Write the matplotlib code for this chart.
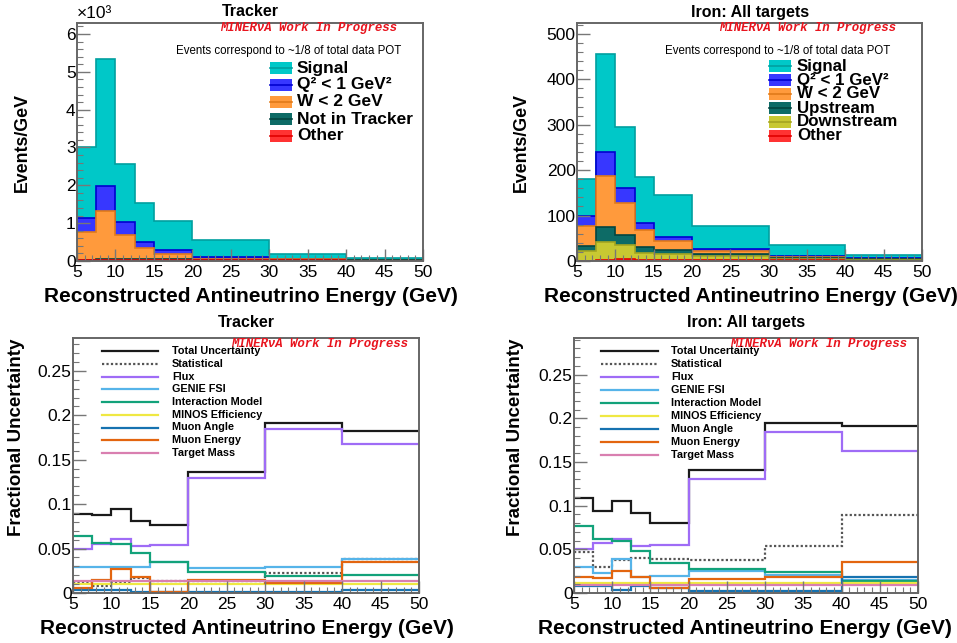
import numpy as np
import matplotlib
matplotlib.use("Agg")
import matplotlib.pyplot as plt
from matplotlib.ticker import MultipleLocator, FuncFormatter

# ---------------- data ----------------
edges = [5, 7.5, 10, 12.5, 15, 20, 30, 40, 50]

# Tracker (events/GeV), individual stack components
trk_other  = [20, 30, 30, 30, 30, 20, 20, 10]
trk_notin  = [10, 10, 10, 10, 10, 10, 10, 5]
trk_w      = [740, 1270, 650, 310, 140, 30, 10, 5]
trk_q2     = [370, 670, 330, 160, 100, 40, 20, 10]
trk_signal = [1870, 3360, 1540, 1030, 790, 465, 130, 40]

# Iron: all targets (events/GeV)
fe_other  = [1, 2, 4, 3, 3, 2, 2, 1]
fe_down   = [20, 39, 32, 15, 12, 8, 3, 2]
fe_up     = [13, 34, 22, 13, 10, 5, 2, 1.5]
fe_w      = [43, 112, 69, 37, 19, 6, 2, 0.5]
fe_q2     = [21, 54, 34, 15, 9, 6, 1, 1.5]
fe_signal = [82, 215, 134, 102, 93, 50, 25, 6]

# Fractional uncertainties, Tracker
trk_unc = {
    "Total Uncertainty": [0.089, 0.088, 0.094, 0.0815, 0.077, 0.136, 0.191, 0.182],
    "Statistical":       [0.011, 0.008, 0.0125, 0.017, 0.014, 0.0135, 0.0225, 0.038],
    "Flux":              [0.050, 0.055, 0.061, 0.053, 0.054, 0.129, 0.185, 0.168],
    "GENIE FSI":         [0.029, 0.029, 0.029, 0.029, 0.035, 0.028, 0.029, 0.0385],
    "Interaction Model": [0.064, 0.056, 0.055, 0.045, 0.035, 0.024, 0.0195, 0.020],
    "MINOS Efficiency":  [0.010, 0.010, 0.010, 0.010, 0.010, 0.010, 0.010, 0.010],
    "Muon Angle":        [0.003, 0.003, 0.003, 0.001, 0.001, 0.001, 0.001, 0.003],
    "Muon Energy":       [0.0055, 0.015, 0.027, 0.018, 0.001, 0.015, 0.011, 0.0345],
    "Target Mass":       [0.014, 0.014, 0.014, 0.014, 0.014, 0.014, 0.014, 0.014],
}
# Fractional uncertainties, Iron
fe_unc = {
    "Total Uncertainty": [0.109, 0.094, 0.105, 0.092, 0.080, 0.141, 0.195, 0.191],
    "Statistical":       [0.047, 0.0295, 0.0375, 0.040, 0.039, 0.0375, 0.0535, 0.0895],
    "Flux":              [0.050, 0.057, 0.062, 0.054, 0.055, 0.130, 0.184, 0.163],
    "GENIE FSI":         [0.0295, 0.023, 0.039, 0.018, 0.020, 0.025, 0.021, 0.015],
    "Interaction Model": [0.0765, 0.062, 0.059, 0.048, 0.034, 0.0275, 0.024, 0.014],
    "MINOS Efficiency":  [0.011, 0.011, 0.011, 0.011, 0.011, 0.011, 0.011, 0.011],
    "Muon Angle":        [0.0075, 0.0075, 0.004, 0.0085, 0.006, 0.002, 0.002, 0.018],
    "Muon Energy":       [0.018, 0.017, 0.0255, 0.0185, 0.0055, 0.0165, 0.018, 0.035],
    "Target Mass":       [0.009, 0.009, 0.009, 0.009, 0.009, 0.009, 0.009, 0.009],
}

unc_style = {
    "Total Uncertainty": dict(color="#1a1a1a", ls="-"),
    "Statistical":       dict(color="#555555", ls=(0, (1, 1))),
    "Flux":              dict(color="#9f6cf6", ls="-"),
    "GENIE FSI":         dict(color="#56b4e9", ls="-"),
    "Interaction Model": dict(color="#12a27a", ls="-"),
    "MINOS Efficiency":  dict(color="#efe842", ls="-"),
    "Muon Angle":        dict(color="#1672b0", ls="-"),
    "Muon Energy":       dict(color="#e3650f", ls="-"),
    "Target Mass":       dict(color="#d97fb0", ls="-"),
}

# (label, values, fill, edge)
trk_stack = [
    ("Other", trk_other, "#ff3333", "#e00000"),
    ("Not in Tracker", trk_notin, "#0d6b66", "#034540"),
    ("W < 2 GeV", trk_w, "#ff9a3c", "#e07a1a"),
    ("Q² < 1 GeV²", trk_q2, "#3737ff", "#0000d0"),
    ("Signal", trk_signal, "#00c8c8", "#00a0a0"),
]
fe_stack = [
    ("Other", fe_other, "#ff3333", "#e00000"),
    ("Downstream", fe_down, "#c8c832", "#a5a520"),
    ("Upstream", fe_up, "#0d6b66", "#034540"),
    ("W < 2 GeV", fe_w, "#ff9a3c", "#e07a1a"),
    ("Q² < 1 GeV²", fe_q2, "#3737ff", "#0000d0"),
    ("Signal", fe_signal, "#00c8c8", "#00a0a0"),
]

SANS = ["Liberation Sans", "DejaVu Sans"]
MONO = ["Liberation Mono", "DejaVu Sans Mono"]
plt.rcParams["font.family"] = SANS

W, H = 957, 643
fig = plt.figure(figsize=(W / 100, H / 100), dpi=100)


def px_axes(x0, y0, x1, y1):
    return fig.add_axes([x0 / W, 1 - y1 / H, (x1 - x0) / W, (y1 - y0) / H])


def style_axes(ax, ymajor, yminor, fmt):
    ax.set_xlim(5, 50)
    ax.xaxis.set_major_locator(MultipleLocator(5))
    ax.xaxis.set_minor_locator(MultipleLocator(1))
    ax.yaxis.set_major_locator(MultipleLocator(ymajor))
    ax.yaxis.set_minor_locator(MultipleLocator(yminor))
    ax.yaxis.set_major_formatter(FuncFormatter(fmt))
    ax.tick_params(which="both", direction="in", color="#777777",
                   labelsize=12.5, top=False, right=False)
    ax.tick_params(which="major", length=9, width=1)
    ax.tick_params(which="minor", length=4.5, width=0.8)
    ax.tick_params(axis="x", pad=3)
    ax.tick_params(axis="y", pad=1)
    for s in ax.spines.values():
        s.set_color("#666666")
        s.set_linewidth(1.4)


def px_text(x, y, s, **kw):
    fig.text(x / W, 1 - y / H, s, **kw)


def draw_stack(ax, stack, scale):
    cum = np.zeros(len(edges) - 1)
    tops = []
    for label, vals, fc, ec in stack:
        cum = cum + np.asarray(vals, dtype=float) / scale
        tops.append((label, cum.copy(), fc, ec))
    for label, top, fc, ec in reversed(tops):
        ax.stairs(top, edges, baseline=0, fill=True, color=fc, lw=0)
        ax.stairs(top, edges, baseline=0, fill=False, color=ec, lw=1.2)


def stack_legend(stack, x0, x1, x_text, y_first, dy, fs):
    for i, (label, vals, fc, ec) in enumerate(reversed(stack)):
        y = y_first + i * dy
        fig.patches.append(plt.Rectangle((x0 / W, 1 - (y + 6) / H), (x1 - x0) / W, 12 / H,
                                         transform=fig.transFigure, facecolor=fc,
                                         edgecolor="none"))
        fig.lines.append(plt.Line2D([x0 / W, x1 / W], [1 - y / H, 1 - y / H],
                                    transform=fig.transFigure, color=ec, lw=1.2))
        px_text(x_text, y, label, fontsize=fs, fontweight="bold", va="center", ha="left")


def draw_unc(ax, unc):
    for name, vals in unc.items():
        st = unc_style[name]
        ax.stairs(vals, edges, baseline=None, color=st["color"], ls=st["ls"], lw=1.6)


def unc_legend(unc, x0, x1, x_text, y_first, dy):
    for i, name in enumerate(unc.keys()):
        st = unc_style[name]
        y = y_first + i * dy
        fig.lines.append(plt.Line2D([x0 / W, x1 / W], [1 - y / H, 1 - y / H],
                                    transform=fig.transFigure, color=st["color"],
                                    ls=st["ls"], lw=1.6))
        px_text(x_text, y, name, fontsize=7.8, fontweight="bold", va="center", ha="left")


minerva = "MINERνA Work In Progress"
xlabel = "Reconstructed Antineutrino Energy (GeV)"
XL = 15
YL = 12.8

# ---------- top-left: Tracker ----------
ax1 = px_axes(77, 23, 423, 261)
draw_stack(ax1, trk_stack, 1000.0)
ax1.set_ylim(0, 6.29)
style_axes(ax1, 1, 0.2, lambda v, p: f"{v:g}")
px_text(250, 12, "Tracker", fontsize=11.5, fontweight="bold", ha="center", va="center")
px_text(77, 14, "×10³", fontsize=12.5, ha="left", va="center")
px_text(309, 28, minerva, family=MONO, fontsize=8.9, fontweight="bold", style="italic",
        color="#e8141e", ha="center", va="center")
px_text(289, 51, "Events correspond to ~1/8 of total data POT", fontsize=8.3, ha="center", va="center")
stack_legend(trk_stack, 270, 292, 297, 68, 17, 12.5)
px_text(251, 296, xlabel, fontsize=XL, fontweight="bold", ha="center", va="center")
px_text(22, 142, "Events/GeV", fontsize=YL, fontweight="bold", ha="center", va="center", rotation=90)

# ---------- top-right: Iron ----------
ax2 = px_axes(577, 23, 922, 261)
draw_stack(ax2, fe_stack, 1.0)
ax2.set_ylim(0, 524)
style_axes(ax2, 100, 20, lambda v, p: f"{v:g}")
px_text(750, 12, "Iron: All targets", fontsize=11.5, fontweight="bold", ha="center", va="center")
px_text(808, 28, minerva, family=MONO, fontsize=8.9, fontweight="bold", style="italic",
        color="#e8141e", ha="center", va="center")
px_text(778, 51, "Events correspond to ~1/8 of total data POT", fontsize=8.3, ha="center", va="center")
stack_legend(fe_stack, 769, 791, 797, 66, 14, 12.2)
px_text(751, 296, xlabel, fontsize=XL, fontweight="bold", ha="center", va="center")
px_text(521, 142, "Events/GeV", fontsize=YL, fontweight="bold", ha="center", va="center", rotation=90)

# ---------- bottom-left: Tracker uncertainties ----------
ax3 = px_axes(73, 338, 419, 593)
draw_unc(ax3, trk_unc)
ax3.set_ylim(0, 0.287)
style_axes(ax3, 0.05, 0.01, lambda v, p: f"{v:g}")
px_text(246, 322, "Tracker", fontsize=11.5, fontweight="bold", ha="center", va="center")
px_text(320, 344, minerva, family=MONO, fontsize=8.9, fontweight="bold", style="italic",
        color="#e8141e", ha="center", va="center")
unc_legend(trk_unc, 102, 158, 172, 351, 12.75)
px_text(247, 629, xlabel, fontsize=XL, fontweight="bold", ha="center", va="center")
px_text(17, 437, "Fractional Uncertainty", fontsize=13.5, fontweight="bold", ha="center",
        va="center", rotation=90)

# ---------- bottom-right: Iron uncertainties ----------
ax4 = px_axes(574, 338, 918, 593)
draw_unc(ax4, fe_unc)
ax4.set_ylim(0, 0.292)
style_axes(ax4, 0.05, 0.01, lambda v, p: f"{v:g}")
px_text(746, 322, "Iron: All targets", fontsize=11.5, fontweight="bold", ha="center", va="center")
px_text(819, 344, minerva, family=MONO, fontsize=8.9, fontweight="bold", style="italic",
        color="#e8141e", ha="center", va="center")
unc_legend(fe_unc, 601, 658, 671, 351, 13)
px_text(745, 629, xlabel, fontsize=XL, fontweight="bold", ha="center", va="center")
px_text(516, 437, "Fractional Uncertainty", fontsize=13.5, fontweight="bold", ha="center",
        va="center", rotation=90)

fig.savefig("out.png", dpi=100)
